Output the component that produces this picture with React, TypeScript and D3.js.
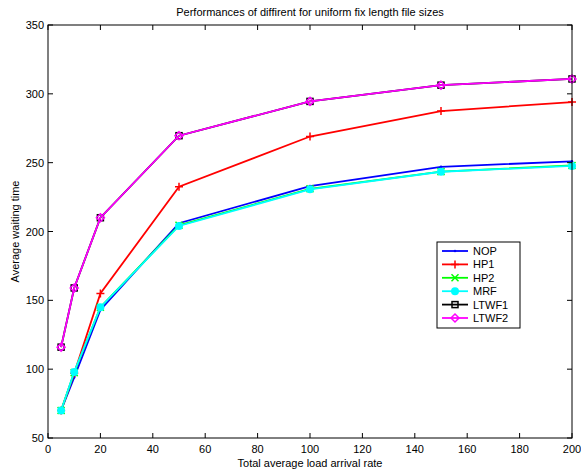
import React from "react";
import * as d3 from "d3";

const rates = [5, 10, 20, 50, 100, 150, 200];
const nop = [70, 94, 143, 206, 233, 247, 251];
const hp1 = [70, 97, 155, 232.5, 269, 287.5, 294];
const hp2 = [70, 97.5, 145, 204.5, 231, 243.5, 248];
const mrf = [70, 98, 145, 204, 230.6, 243.4, 247.6];
const ltwf1 = [116, 159, 210, 269.6, 294.5, 306.3, 310.8];
const ltwf2 = [116, 159, 210, 269.6, 294.5, 306.3, 310.8];
const seriesNames = ["NOP", "HP1", "HP2", "MRF", "LTWF1", "LTWF2"];
const seriesColors = ["#0000ff", "#ff0000", "#00ff00", "#00ffff", "#000000", "#ff00ff"];
const markers = ["point", "plus", "x", "dot", "square", "diamond"];
const xTicks = [0, 20, 40, 60, 80, 100, 120, 140, 160, 180, 200];
const yTicks = [50, 100, 150, 200, 250, 300, 350];

const W = 581, H = 475;
const M = { l: 48, r: 572, t: 25, b: 438 };
const FONT = "'Liberation Sans', Arial, sans-serif";

function Marker({ type, x, y, color }: { type: string; x: number; y: number; color: string }) {
  switch (type) {
    case "point":
      return <circle cx={x} cy={y} r={1.2} fill={color} />;
    case "plus":
      return <path d={`M${x - 4},${y}H${x + 4}M${x},${y - 4}V${y + 4}`} stroke={color} strokeWidth={1.5} />;
    case "x":
      return <path d={`M${x - 3.5},${y - 3.5}L${x + 3.5},${y + 3.5}M${x - 3.5},${y + 3.5}L${x + 3.5},${y - 3.5}`} stroke={color} strokeWidth={1.5} />;
    case "dot":
      return <circle cx={x} cy={y} r={4} fill={color} />;
    case "square":
      return <rect x={x - 3} y={y - 3} width={6} height={6} fill="none" stroke={color} strokeWidth={1.5} />;
    case "diamond":
      return <path d={`M${x},${y - 4}L${x + 4},${y}L${x},${y + 4}L${x - 4},${y}Z`} fill="none" stroke={color} strokeWidth={1.5} />;
  }
  return null;
}

export default function App() {
  const x = d3.scaleLinear().domain([0, 200]).range([M.l, M.r]);
  const y = d3.scaleLinear().domain([50, 350]).range([M.b, M.t]);
  const data = [nop, hp1, hp2, mrf, ltwf1, ltwf2];
  const line = d3.line<number>().x((_, i) => x(rates[i])).y((d) => y(d));

  const lx = 437, ly = 242, lw = 83, lh = 86;

  return (
    <svg width={W} height={H} style={{ position: "absolute", left: 0, top: 0, background: "#fff" }} fontFamily={FONT}>
      <rect width={W} height={H} fill="#fff" />
      <text x={(M.l + M.r) / 2} y={16} textAnchor="middle" fontSize={11}>
        Performances of diffirent for uniform fix length file sizes
      </text>
      {data.map((s, si) => (
        <g key={si}>
          <path d={line(s) || ""} fill="none" stroke={seriesColors[si]} strokeWidth={1.8} />
          {s.map((v, i) => (
            <Marker key={i} type={markers[si]} x={x(rates[i])} y={y(v)} color={seriesColors[si]} />
          ))}
        </g>
      ))}
      <rect x={M.l} y={M.t} width={M.r - M.l} height={M.b - M.t} fill="none" stroke="#000" strokeWidth={1} />
      {xTicks.map((t) => (
        <g key={t}>
          <line x1={x(t)} x2={x(t)} y1={M.b} y2={M.b - 5} stroke="#000" />
          <line x1={x(t)} x2={x(t)} y1={M.t} y2={M.t + 5} stroke="#000" />
          <text x={x(t)} y={M.b + 15} textAnchor="middle" fontSize={11}>{t}</text>
        </g>
      ))}
      {yTicks.map((t) => (
        <g key={t}>
          <line x1={M.l} x2={M.l + 5} y1={y(t)} y2={y(t)} stroke="#000" />
          <line x1={M.r} x2={M.r - 5} y1={y(t)} y2={y(t)} stroke="#000" />
          <text x={M.l - 4} y={y(t) + 4} textAnchor="end" fontSize={11}>{t}</text>
        </g>
      ))}
      <text x={(M.l + M.r) / 2} y={467} textAnchor="middle" fontSize={11}>Total average load arrival rate</text>
      <text transform={`translate(19,${(M.t + M.b) / 2}) rotate(-90)`} textAnchor="middle" fontSize={11}>Average waiting time</text>
      <rect x={lx} y={ly} width={lw} height={lh} fill="#fff" stroke="#000" strokeWidth={1} />
      {seriesNames.map((n, i) => {
        const yy = ly + 9 + i * 13.4;
        return (
          <g key={n}>
            <line x1={lx + 5} x2={lx + 31} y1={yy} y2={yy} stroke={seriesColors[i]} strokeWidth={1.8} />
            <Marker type={markers[i]} x={lx + 18} y={yy} color={seriesColors[i]} />
            <text x={lx + 36} y={yy + 4} fontSize={11}>{n}</text>
          </g>
        );
      })}
    </svg>
  );
}
